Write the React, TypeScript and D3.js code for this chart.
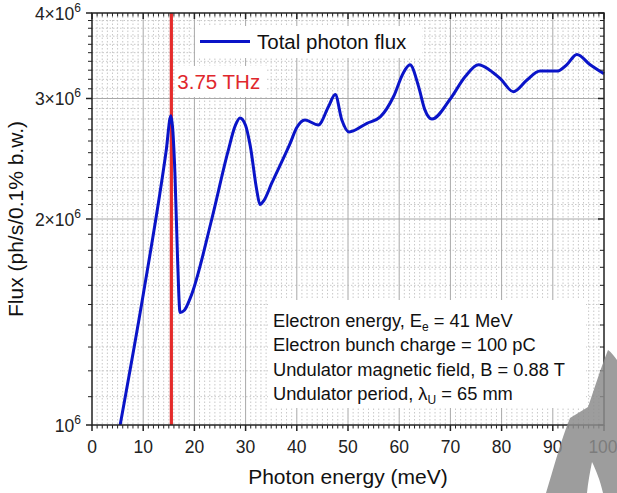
import React from "react";
import * as d3 from "d3";

// Photon energy (meV) and total photon flux (ph/s/0.1% b.w.)
const energy = [5.5, 10.0, 14.5, 15.4, 16.2, 16.7, 17.2, 18.0, 19.3, 23.4, 26.5, 28.0, 28.9, 30.0, 30.9, 32.2, 32.8, 33.6, 35.1, 38.7, 40.0, 41.6, 44.2, 46.2, 47.5, 48.8, 50.2, 53.7, 56.3, 58.9, 60.8, 62.1, 63.8, 65.0, 66.4, 69.9, 72.9, 75.5, 77.7, 79.7, 82.3, 84.9, 87.5, 90.8, 92.7, 94.7, 97.3, 100];
const flux = [1.0e6, 1.55e6, 2.52e6, 2.83e6, 2.33e6, 1.76e6, 1.46e6, 1.47e6, 1.54e6, 2.0e6, 2.5e6, 2.74e6, 2.81e6, 2.74e6, 2.56e6, 2.2e6, 2.1e6, 2.13e6, 2.256e6, 2.58e6, 2.72e6, 2.79e6, 2.745e6, 2.92e6, 3.04e6, 2.79e6, 2.68e6, 2.76e6, 2.82e6, 3.02e6, 3.27e6, 3.36e6, 3.12e6, 2.89e6, 2.8e6, 2.99e6, 3.23e6, 3.36e6, 3.3e6, 3.21e6, 3.07e6, 3.19e6, 3.29e6, 3.29e6, 3.36e6, 3.48e6, 3.36e6, 3.26e6];

const markerEnergy = 15.5; // 3.75 THz
const markerLabel = "3.75 THz";
const legendLabel = "Total photon flux";

const xTicks = [0, 10, 20, 30, 40, 50, 60, 70, 80, 90, 100];
const yTicks = [1e6, 2e6, 3e6, 4e6];
const yTickLabels = ["10", "2×10", "3×10", "4×10"];
const yTickExp = "6";

const xTitle = "Photon energy (meV)";
const yTitle = "Flux (ph/s/0.1% b.w.)";

const FONT = "Arial, 'Liberation Sans', Helvetica, sans-serif";

export default function App() {
  const W = 617, H = 493;
  const x = d3.scaleLinear().domain([0, 100]).range([92, 604]);
  const y = d3.scaleLog().domain([1e6, 4e6]).range([425, 13]);
  const [x0, x1] = x.range();
  const [yb, yt] = y.range();

  const xMinor = d3.range(0, 101, 1).filter((v) => v % 10 !== 0);
  const yMinor = d3.range(11, 40, 1).map((v) => v * 1e5).filter((v) => v % 1e6 !== 0);

  const pts = energy.map((e, i) => [e, flux[i]] as [number, number]);
  const line = d3
    .line<[number, number]>()
    .x((d) => x(d[0]))
    .y((d) => y(d[1]))
    .curve(d3.curveMonotoneX);

  const axisColor = "#222";

  return (
    <svg width={W} height={H} style={{ position: "absolute", left: 0, top: 0, background: "#fff" }} fontFamily={FONT}>
      <rect x={0} y={0} width={W} height={H} fill="#fff" />
      {/* minor grid */}
      {xMinor.map((v) => (
        <line key={"gx" + v} x1={x(v)} x2={x(v)} y1={yt} y2={yb} stroke="#c8c8c8" strokeWidth={1} strokeDasharray="1.5,2" />
      ))}
      {yMinor.map((v) => (
        <line key={"gy" + v} x1={x0} x2={x1} y1={y(v)} y2={y(v)} stroke="#c8c8c8" strokeWidth={1} strokeDasharray="1.5,2" />
      ))}
      {/* major grid */}
      {xTicks.slice(1, -1).map((v) => (
        <line key={"Gx" + v} x1={x(v)} x2={x(v)} y1={yt} y2={yb} stroke="#a8a8a8" strokeWidth={1} />
      ))}
      {yTicks.slice(1, -1).map((v) => (
        <line key={"Gy" + v} x1={x0} x2={x1} y1={y(v)} y2={y(v)} stroke="#a8a8a8" strokeWidth={1} />
      ))}

      {/* white boxes behind texts */}
      <rect x={196} y={26} width={226} height={32} fill="#fff" />
      <rect x={175} y={66} width={92} height={31} fill="#fff" />
      <rect x={268} y={300} width={318} height={108} fill="#fff" />

      {/* marker line */}
      <line x1={x(markerEnergy)} x2={x(markerEnergy)} y1={yt} y2={yb} stroke="#e52b2b" strokeWidth={3.2} />
      <text x={x(markerEnergy) + 6} y={89} fontSize={20.5} fill="#e0282d">{markerLabel}</text>

      {/* curve */}
      <path d={line(pts) || ""} fill="none" stroke="#0a14c8" strokeWidth={3} strokeLinejoin="round" />

      {/* legend */}
      <line x1={200} x2={250} y1={41.5} y2={41.5} stroke="#0a14c8" strokeWidth={3} />
      <text x={257} y={48.5} fontSize={20.5} fill="#111">{legendLabel}</text>

      {/* frame */}
      <rect x={x0} y={yt} width={x1 - x0} height={yb - yt} fill="none" stroke={axisColor} strokeWidth={1.5} />

      {/* bottom + top ticks */}
      {xTicks.map((v) => (
        <g key={"xt" + v}>
          <line x1={x(v)} x2={x(v)} y1={yb} y2={yb + 6} stroke={axisColor} strokeWidth={1.5} />
          <line x1={x(v)} x2={x(v)} y1={yt} y2={yt + 6} stroke={axisColor} strokeWidth={1.5} />
          <text x={v === 100 ? x(v) - 1 : x(v)} y={453} fontSize={17.5} textAnchor="middle" fill="#222">{v}</text>
        </g>
      ))}
      {xMinor.map((v) => (
        <g key={"xm" + v}>
          <line x1={x(v)} x2={x(v)} y1={yb} y2={yb + 3.5} stroke={axisColor} strokeWidth={1} />
          <line x1={x(v)} x2={x(v)} y1={yt} y2={yt + 3.5} stroke={axisColor} strokeWidth={1} />
        </g>
      ))}

      {/* left + right ticks */}
      {yTicks.map((v, i) => (
        <g key={"yt" + v}>
          <line x1={x0 - 6} x2={x0} y1={y(v)} y2={y(v)} stroke={axisColor} strokeWidth={1.5} />
          <line x1={x1 - 6} x2={x1} y1={y(v)} y2={y(v)} stroke={axisColor} strokeWidth={1.5} />
          <text x={81} y={y(v) + 6.5} fontSize={17.5} textAnchor="end" fill="#222">
            {yTickLabels[i]}
            <tspan fontSize={12} dy={-8}>{yTickExp}</tspan>
          </text>
        </g>
      ))}
      {yMinor.map((v) => (
        <g key={"ym" + v}>
          <line x1={x0 - 4} x2={x0} y1={y(v)} y2={y(v)} stroke={axisColor} strokeWidth={1} />
          <line x1={x1 - 4} x2={x1} y1={y(v)} y2={y(v)} stroke={axisColor} strokeWidth={1} />
        </g>
      ))}

      {/* axis titles */}
      <text x={(x0 + x1) / 2} y={484} fontSize={21} textAnchor="middle" fill="#111">{xTitle}</text>
      <text transform={`translate(23,${(yt + yb) / 2}) rotate(-90)`} fontSize={21} textAnchor="middle" fill="#111">{yTitle}</text>

      {/* annotation */}
      <g fontSize={18.3} fill="#111">
        <text x={273} y={327}>
          Electron energy, E<tspan fontSize={12} dy={4}>e</tspan><tspan dy={-4}> = 41 MeV</tspan>
        </text>
        <text x={273} y={351}>Electron bunch charge = 100 pC</text>
        <text x={273} y={376}>Undulator magnetic field, B = 0.88 T</text>
        <text x={273} y={400}>
          Undulator period, λ<tspan fontSize={12} dy={4}>U</tspan><tspan dy={-4}> = 65 mm</tspan>
        </text>
      </g>

      {/* watermark shape */}
      <path
        d="M570,418 C576,414 582,411 588,407 C594,390 600,370 608,350 C611,352 614,356 617,360 L617,493 L603,493 C600,480 596,470 592,462 C590,472 588,482 587,493 L546,493 C553,470 561,440 570,418 Z"
        fill="#8c8c8c"
        fillOpacity={0.85}
      />
    </svg>
  );
}
